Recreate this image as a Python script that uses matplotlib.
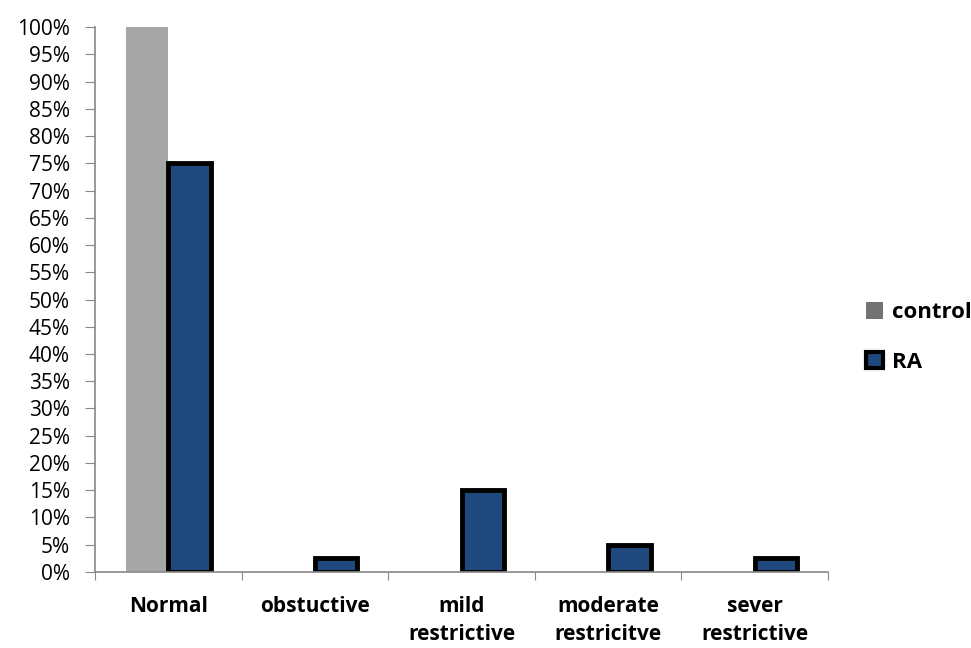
import matplotlib.pyplot as plt
from matplotlib.patches import Patch
import numpy as np

categories = ["Normal", "obstuctive", "mild\nrestrictive", "moderate\nrestricitve", "sever\nrestrictive"]
control = [100, 0, 0, 0, 0]
ra = [75, 2.5, 15, 5, 2.5]
yticks = list(range(0, 101, 5))

plt.rcParams['font.family'] = ['Open Sans', 'DejaVu Sans']

fig = plt.figure(figsize=(9.71, 6.48), dpi=100)
ax = fig.add_axes([0.0978, 0.1173, 0.755, 0.8410])

x = np.arange(len(categories))
w = 0.29
ax.bar(x - w / 2, control, w, color='#a6a6a6', label='control')
ax.bar(x + w / 2, ra, w, color='#1f497d', edgecolor='black', linewidth=3.5, label='RA')

ax.set_xlim(-0.5, len(categories) - 0.5)
ax.set_ylim(0, 100)
ax.set_yticks(yticks)
ax.set_yticklabels([f"{t}%" for t in yticks], fontsize=15)
ax.set_xticks(np.arange(len(categories) + 1) - 0.5)
ax.set_xticklabels([])
ax.set_xticks(x, minor=True)
ax.set_xticklabels(categories, minor=True, fontsize=15, fontweight='bold', linespacing=1.45)
ax.tick_params(axis='x', which='minor', length=0, pad=17)
ax.tick_params(axis='x', which='major', length=6, color='#888888')
ax.tick_params(axis='y', length=7, color='#888888', pad=11)
for s in ['top', 'right']:
    ax.spines[s].set_visible(False)
for s in ['left', 'bottom']:
    ax.spines[s].set_color('#888888')
    ax.spines[s].set_linewidth(1.2)

handles = [Patch(facecolor='#737373', edgecolor='none', label='control'),
           Patch(facecolor='#1f497d', edgecolor='black', linewidth=3, label='RA')]
leg = ax.legend(handles=handles, loc='center left', bbox_to_anchor=(1.025, 0.43),
                frameon=False, handlelength=0.75, handleheight=0.75, handletextpad=0.4,
                labelspacing=1.3, prop={'size': 16, 'weight': 'bold'})

fig.savefig("out.png", dpi=100)
